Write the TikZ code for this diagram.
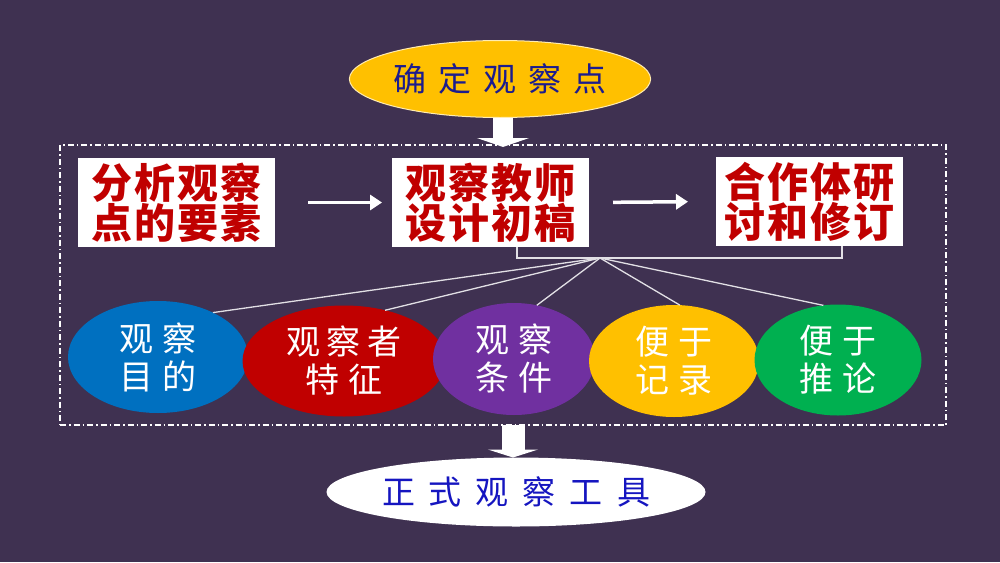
\documentclass[tikz,border=0pt]{standalone}
\usepackage{fontspec}
\setmainfont{Noto Sans CJK SC}
\usetikzlibrary{shapes.geometric,arrows.meta}
\definecolor{bg}{HTML}{3F3151}
\definecolor{gold}{HTML}{FFC000}
\definecolor{navy}{HTML}{1C1C8E}
\definecolor{boxred}{HTML}{C00000}
\definecolor{eblue}{HTML}{0070C0}
\definecolor{ered}{HTML}{C00000}
\definecolor{epurple}{HTML}{7030A0}
\definecolor{egreen}{HTML}{00B050}
\definecolor{tblue}{HTML}{1515C0}
\newcommand{\kg}[1]{\hspace{#1}}
\begin{document}
\begin{tikzpicture}[x=1pt,y=-1pt,
  every node/.style={inner sep=0pt,outer sep=0pt},
  stepbox/.style={rectangle,fill=white,text=boxred,align=center,
    font=\fontsize{41}{40}\selectfont\bfseries},
  oval/.style={ellipse,text=white,align=center,
    font=\fontsize{34}{38}\selectfont},
  harrow/.style={draw=white,line width=3.5pt,-{Triangle[length=12pt,width=15pt]}},
  thinline/.style={draw=white!85!bg,line width=1.3pt},
  frame/.style={draw=white,line width=1.2pt,dash pattern=on 6pt off 3pt on 1.5pt off 3pt}]
\fill[bg] (0,0) rectangle (1000,562);
\useasboundingbox (0,0) rectangle (1000,562);

\node[ellipse,fill=gold,draw=white!70!gold,line width=1pt,minimum width=250pt,minimum height=77pt,
  text=navy,font=\fontsize{33}{33}\selectfont] (top) at (500,79) {确\kg{12pt}定\kg{12pt}观\kg{12pt}察\kg{12pt}点};

\node[frame,minimum width=886pt,minimum height=280pt] (frm) at (503,285) {};

\node[stepbox,minimum width=197pt,minimum height=89pt] (b1) at (176.5,202.5) {分\kg{2pt}析\kg{2pt}观\kg{2pt}察\\点\kg{2pt}的\kg{2pt}要\kg{2pt}素};
\node[stepbox,minimum width=197pt,minimum height=89pt] (b2) at (490.5,202.5) {观\kg{2pt}察\kg{2pt}教\kg{2pt}师\\设\kg{2pt}计\kg{2pt}初\kg{2pt}稿};
\node[stepbox,minimum width=187pt,minimum height=89pt] (b3) at (809.5,201.5) {合\kg{2pt}作\kg{2pt}体\kg{2pt}研\\讨\kg{2pt}和\kg{2pt}修\kg{2pt}订};

\draw[harrow,shorten <=33pt,shorten >=10pt] (b1.east) -- (b2.west);
\draw[harrow,shorten <=24pt,shorten >=28pt] (b2.east) -- (b3.west);

\node[oval,fill=eblue,minimum width=180pt,minimum height=112pt] (e1) at (158,357) {观\kg{9pt}察\\目\kg{9pt}的};
\node[oval,fill=ered,minimum width=203pt,minimum height=111pt] (e2) at (344,361) {观\kg{7pt}察\kg{7pt}者\\特\kg{9pt}征};
\node[oval,fill=epurple,minimum width=162pt,minimum height=112pt] (e3) at (514,359) {观\kg{9pt}察\\条\kg{9pt}件};
\node[oval,fill=gold,minimum width=170pt,minimum height=112pt] (e4) at (674,361) {便\kg{9pt}于\\记\kg{9pt}录};
\node[oval,fill=egreen,minimum width=167pt,minimum height=111pt] (e5) at (838,360) {便\kg{9pt}于\\推\kg{9pt}论};

\coordinate (hub) at (600,258);
\draw[thinline] ([xshift=26.5pt]b2.south) |- (hub) -| ([xshift=32.5pt]b3.south);
\foreach \n/\a in {e1/39,e2/51,e3/67,e4/84,e5/105}
  \draw[thinline] (hub) -- (\n.\a);

\node[ellipse,fill=white,minimum width=358pt,minimum height=69pt,text=tblue,
  font=\fontsize{33}{33}\selectfont] (out) at (516,492) {正\kg{14pt}式\kg{14pt}观\kg{14pt}察\kg{14pt}工\kg{14pt}具};

\draw[white,line width=20pt,-{Triangle[length=9pt,width=52pt]}] (top.south -| frm.north) -- ([yshift=-2pt]frm.north);
\draw[white,line width=23pt,-{Triangle[length=8pt,width=50pt]}] ([xshift=-3pt]out.north |- frm.south) -- ([xshift=-3pt]out.north);
\end{tikzpicture}
\end{document}
